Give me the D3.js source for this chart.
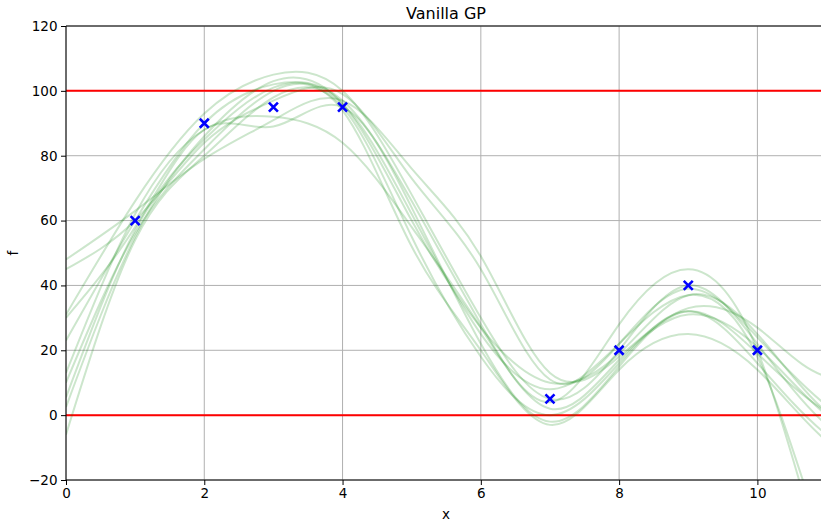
<!DOCTYPE html>
<html>
<head>
<meta charset="utf-8">
<script src="https://d3js.org/d3.v7.min.js"></script>
<style>
  body { margin: 0; background: #fff; }
  svg { display: block; }
  text { font-family: "DejaVu Sans", sans-serif; fill: #000; }
  .axis text { font-size: 13.5px; }
  .axis path, .axis line { stroke: #000; }
  .grid line { stroke: #b0b0b0; stroke-width: 1; }
  .sample { fill: none; stroke: #008000; stroke-opacity: 0.2; stroke-width: 2; }
</style>
</head>
<body>
<div id="chart"></div>
<script>
// sample grid positions (x) shared by all GP draws
var gridX = [0, 1, 2, 3, 4, 5, 6, 7, 8, 9, 10, 11, 12];

// GP posterior samples, one value per gridX
var sample1  = [48, 63, 79, 91, 97, 76, 49, 13, 18, 33, 27, 12, 20];
var sample2  = [45, 60, 84, 97, 99, 73, 45, 11, 22, 39, 24, 3, -10];
var sample3  = [31, 66, 93, 105, 100, 68, 30, 5, 20, 40, 22, -3, -15];
var sample4  = [23, 60, 90, 102, 97, 66, 28, 4, 28, 45, 20, -48, -100];
var sample5  = [13, 62, 88, 92, 84, 58, 27, 2, 17, 31, 21, 0, -12];
var sample6  = [30, 58, 88, 89, 95, 64, 22, -2, 15, 32, 19, 1, -8];
var sample7  = [5.5, 57, 85, 101, 96, 62, 25, 8, 22, 37, 18, -42, -95];
var sample8  = [-6, 54, 80, 98, 95, 55, 18, 0, 16, 32, 16, -6, -18];
var sample9  = [10, 56, 82, 100, 94, 52, 20, -3, 14, 25, 14, -8, -20];
var sample10 = [2.5, 55, 86, 103, 96, 60, 27, 10, 19, 37, 25, 1, -8];
var samples = [sample1, sample2, sample3, sample4, sample5, sample6, sample7, sample8, sample9, sample10];

// observations
var obsX = [1, 2, 3, 4, 7, 8, 9, 10];
var obsF = [60, 90, 95, 95, 5, 20, 40, 20];

// bounds drawn in red
var bounds = [0, 100];

var xTicks = [0, 2, 4, 6, 8, 10];
var yTicks = [-20, 0, 20, 40, 60, 80, 100, 120];

var W = 821, H = 522;
var padL = 66, padT = 26, padB = 480, padR = 821;

var svg = d3.select("#chart").append("svg")
    .attr("width", W).attr("height", H);

var x = d3.scaleLinear().domain([0, 10.92]).range([padL, padR]);
var y = d3.scaleLinear().domain([-20, 120]).range([padB, padT]);

svg.append("defs").append("clipPath").attr("id", "clip")
  .append("rect")
    .attr("x", padL).attr("y", padT)
    .attr("width", padR - padL).attr("height", padB - padT);

// grid
var grid = svg.append("g").attr("class", "grid");
grid.selectAll(".gx").data(xTicks).enter().append("line")
    .attr("x1", d => x(d)).attr("x2", d => x(d))
    .attr("y1", padT).attr("y2", padB);
grid.selectAll(".gy").data(yTicks).enter().append("line")
    .attr("x1", padL).attr("x2", padR)
    .attr("y1", d => y(d)).attr("y2", d => y(d));

var plot = svg.append("g").attr("clip-path", "url(#clip)");

// red bounds
plot.selectAll(".bound").data(bounds).enter().append("line")
    .attr("x1", padL).attr("x2", padR)
    .attr("y1", d => y(d)).attr("y2", d => y(d))
    .attr("stroke", "#ff0000").attr("stroke-width", 2);

// samples
var line = d3.line()
    .x((d, i) => x(gridX[i]))
    .y(d => y(d))
    .curve(d3.curveNatural);

plot.selectAll(".sample").data(samples).enter().append("path")
    .attr("class", "sample")
    .attr("d", line);

// observations as bold x markers
var s = 4.5;
svg.append("g").selectAll("path").data(obsX).enter().append("path")
    .attr("d", (d, i) => {
      var cx = x(d), cy = y(obsF[i]);
      return "M" + (cx - s) + "," + (cy - s) + "L" + (cx + s) + "," + (cy + s) +
             "M" + (cx - s) + "," + (cy + s) + "L" + (cx + s) + "," + (cy - s);
    })
    .attr("stroke", "#0000ff").attr("stroke-width", 2.6).attr("fill", "none");

// axes
var xAxis = d3.axisBottom(x).tickValues(xTicks).tickSize(5).tickPadding(3.5)
    .tickFormat(d3.format("d"));
var yAxis = d3.axisLeft(y).tickValues(yTicks).tickSize(5).tickPadding(3.5)
    .tickFormat(d => d < 0 ? "\u2212" + Math.abs(d) : d);

var gx = svg.append("g").attr("class", "axis")
    .attr("transform", "translate(0," + padB + ")").call(xAxis);
gx.select(".domain").remove();
var gy = svg.append("g").attr("class", "axis")
    .attr("transform", "translate(" + padL + ",0)").call(yAxis);
gy.select(".domain").remove();

// spines
svg.append("line").attr("x1", padL).attr("x2", padR).attr("y1", padB).attr("y2", padB)
    .attr("stroke", "#000").attr("stroke-width", 1);
svg.append("line").attr("x1", padL).attr("x2", padR).attr("y1", padT).attr("y2", padT)
    .attr("stroke", "#000").attr("stroke-width", 1);
svg.append("line").attr("x1", padL).attr("x2", padL).attr("y1", padT).attr("y2", padB)
    .attr("stroke", "#000").attr("stroke-width", 1);

// labels
svg.append("text").attr("x", 446).attr("y", 19)
    .attr("text-anchor", "middle").style("font-size", "16px").text("Vanilla GP");
svg.append("text").attr("x", 446).attr("y", 519)
    .attr("text-anchor", "middle").style("font-size", "13.5px").text("x");
svg.append("text").attr("transform", "translate(18,253) rotate(-90)")
    .attr("text-anchor", "middle").style("font-size", "13.5px").text("f");
</script>
</body>
</html>
